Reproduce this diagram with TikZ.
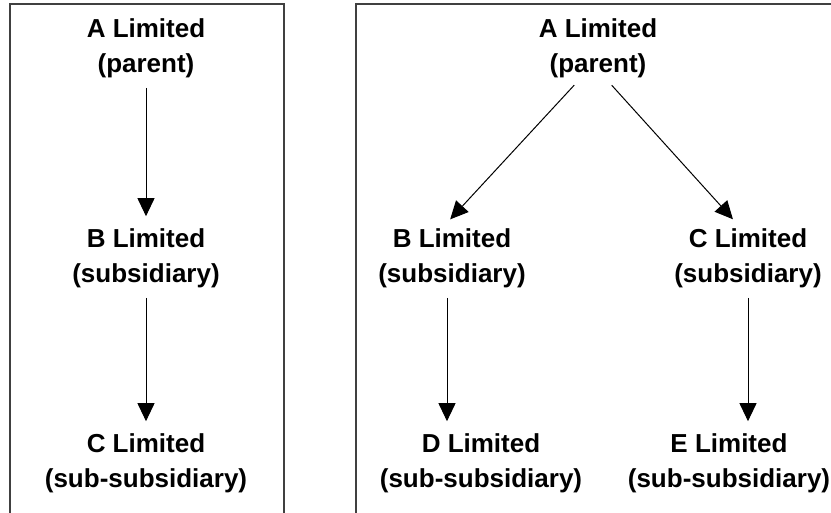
\documentclass[tikz,border=0pt]{standalone}
\usepackage{fontspec}
\setmainfont{Liberation Sans}
\usetikzlibrary{arrows.meta}
\begin{document}
\begin{tikzpicture}[x=1pt,y=-1pt,
  firm/.style={align=center,inner sep=0pt,font=\bfseries\fontsize{26}{35}\selectfont},
  owns/.style={-{Triangle[width=17pt,length=18pt]},line width=1pt,shorten <=10pt,shorten >=12pt},
  frame/.style={draw=black!75,line width=1.3pt}]
\useasboundingbox (0,0) rectangle (831,513);
\draw[frame] (10,513) -- (10,4) -- (284,4) -- (284,513);
\draw[frame] (356,513) -- (356,4) -- (831,4);
\node[firm] (lA) at (146,48) {A Limited\\(parent)};
\node[firm] (lB) at (146,258) {B Limited\\(subsidiary)};
\node[firm] (lC) at (146,463) {C Limited\\(sub-subsidiary)};
\node[firm] (rA) at (598,48) {A Limited\\(parent)};
\node[firm] (rB) at (452,258) {B Limited\\(subsidiary)};
\node[firm] (rC) at (748,258) {C Limited\\(subsidiary)};
\node[firm] (rD) at (481,463) {D Limited\\(sub-subsidiary)};
\node[firm] (rE) at (729,463) {E Limited\\(sub-subsidiary)};
\draw[owns] (lA) -- (lB);
\draw[owns] (lB) -- (lC);
\draw[owns] ([xshift=-17pt]rA.south) -- ([xshift=-10pt]rB.north);
\draw[owns] ([xshift=7pt]rA.south) -- ([xshift=-7pt]rC.north);
\draw[owns] ([xshift=-5pt]rB.south) -- ([xshift=-5pt]rB.south |- rD.north);
\draw[owns] (rC.south) -- (rC.south |- rE.north);
\end{tikzpicture}
\end{document}
